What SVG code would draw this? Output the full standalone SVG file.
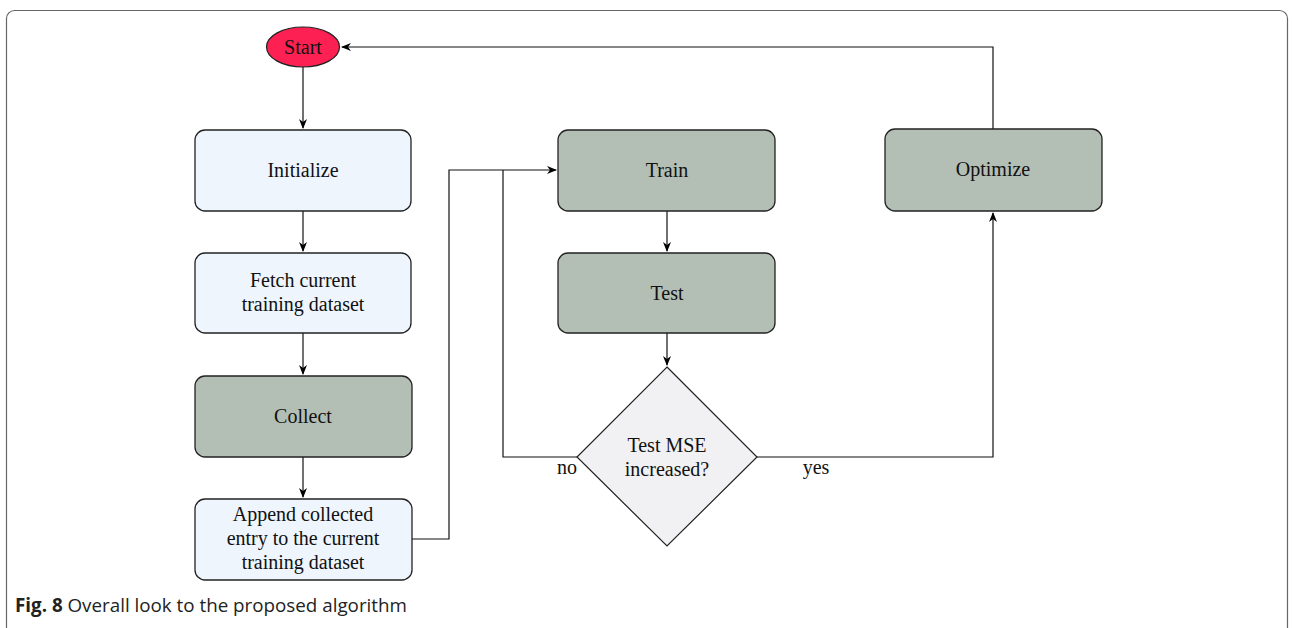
<svg xmlns="http://www.w3.org/2000/svg" width="1292" height="628" viewBox="0 0 1292 628">
<defs>
<marker id="arr" markerWidth="10" markerHeight="8" refX="9" refY="4" orient="auto" markerUnits="userSpaceOnUse">
<path d="M0,0 L10,4 L0,8 L3,4 Z" fill="#000"/>
</marker>
<style>
.box{stroke:#222;stroke-width:1.3}
.blue{fill:#eef5fd}
.gray{fill:#b3beb4}
.t{font-family:"Liberation Serif","Times New Roman",serif;font-size:20px;fill:#111;text-anchor:middle}
.c{fill:none;stroke:#111;stroke-width:1.2}
.cap{font-family:"Open Sans","Noto Sans",sans-serif;font-size:18.8px;fill:#222}
</style>
</defs>
<rect x="0" y="0" width="1292" height="628" fill="#fff"/>
<rect x="6.5" y="10.5" width="1281" height="640" rx="8" fill="none" stroke="#666" stroke-width="1.2"/>
<g id="connectors">
<path class="c" d="M303,67 V128" marker-end="url(#arr)"/>
<path class="c" d="M303,211 V251" marker-end="url(#arr)"/>
<path class="c" d="M303,333 V374" marker-end="url(#arr)"/>
<path class="c" d="M303,457 V497" marker-end="url(#arr)"/>
<path class="c" d="M412,539 H449 V170 H556" marker-end="url(#arr)"/>
<path class="c" d="M577,457 H503 V170"/>
<path class="c" d="M667,211 V251" marker-end="url(#arr)"/>
<path class="c" d="M667,333 V365" marker-end="url(#arr)"/>
<path class="c" d="M757,457 H993 V213" marker-end="url(#arr)"/>
<path class="c" d="M993,129 V47 H342" marker-end="url(#arr)"/>
</g>
<g id="start">
<ellipse cx="303" cy="47" rx="36.5" ry="20" fill="#fc2152" stroke="#222" stroke-width="1.2"/>
<text class="t" x="303" y="54">Start</text>
</g>
<g id="initialize">
<rect class="box blue" x="195" y="130" width="216" height="81" rx="10"/>
<text class="t" x="303" y="177">Initialize</text>
</g>
<g id="fetch">
<rect class="box blue" x="195" y="253" width="216" height="80" rx="10"/>
<text class="t" x="303" y="287">Fetch current</text>
<text class="t" x="303" y="311">training dataset</text>
</g>
<g id="collect">
<rect class="box gray" x="195" y="376" width="217" height="81" rx="10"/>
<text class="t" x="303" y="423">Collect</text>
</g>
<g id="append">
<rect class="box blue" x="195" y="499" width="217" height="81" rx="10"/>
<text class="t" x="303" y="521">Append collected</text>
<text class="t" x="303" y="545">entry to the current</text>
<text class="t" x="303" y="569">training dataset</text>
</g>
<g id="train">
<rect class="box gray" x="558" y="130" width="217" height="81" rx="10"/>
<text class="t" x="667" y="177">Train</text>
</g>
<g id="test">
<rect class="box gray" x="558" y="253" width="217" height="80" rx="10"/>
<text class="t" x="667" y="300">Test</text>
</g>
<g id="decision">
<polygon points="667,367 757,457 667,546 577,457" fill="#f1f1f3" stroke="#222" stroke-width="1.2"/>
<text class="t" x="667" y="452">Test MSE</text>
<text class="t" x="667" y="476">increased?</text>
<text class="t" x="567" y="474">no</text>
<text class="t" x="816" y="474">yes</text>
</g>
<g id="optimize">
<rect class="box gray" x="885" y="129" width="217" height="82" rx="10"/>
<text class="t" x="993" y="176">Optimize</text>
</g>
<g id="caption">
<text class="cap" x="15" y="612"><tspan font-weight="bold">Fig. 8</tspan> Overall look to the proposed algorithm</text>
</g>
</svg>
